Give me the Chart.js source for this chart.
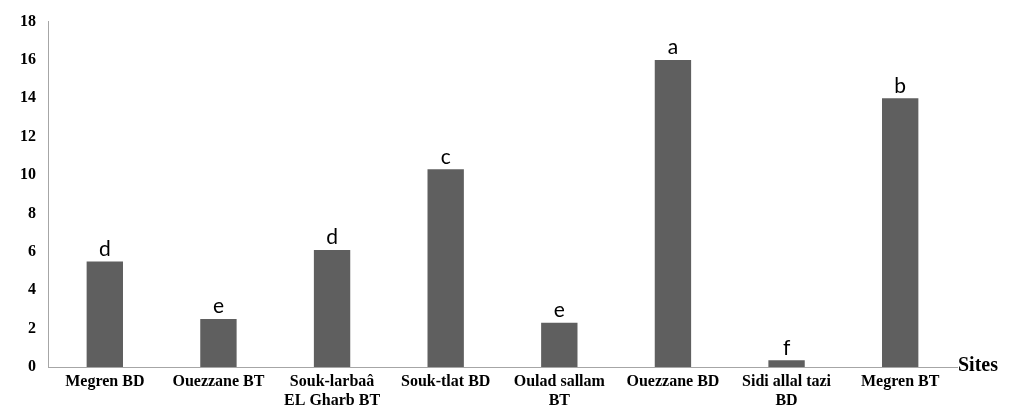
<!DOCTYPE html>
<html>
<head>
<meta charset="utf-8">
<script src="https://cdn.jsdelivr.net/npm/chart.js@4.4.1/dist/chart.umd.min.js"></script>
<style>
  html, body { margin: 0; padding: 0; background: #fff; }
  #wrap { width: 1011px; height: 415px; }
</style>
</head>
<body>
<div id="wrap"><canvas id="chart" width="1011" height="415"></canvas></div>
<script>
// site names (multi-line where the original wraps)
const sites = [
    'Megren BD',
    'Ouezzane BT',
    ['Souk-larbaâ', 'EL Gharb BT'],
    'Souk-tlat BD',
    ['Oulad sallam', 'BT'],
    'Ouezzane BD',
    ['Sidi allal tazi', 'BD'],
    'Megren BT'
];
const values = [5.5, 2.5, 6.1, 10.3, 2.3, 16.0, 0.35, 14.0];
const groups = ['d', 'e', 'd', 'c', 'e', 'a', 'f', 'b'];
const yTicks = [0, 2, 4, 6, 8, 10, 12, 14, 16, 18];

const serifBold = { family: '"Liberation Serif", "Times New Roman", serif', size: 16, weight: 'bold', lineHeight: 1.2 };

// letters above each bar + the "Sites" axis caption
const annotations = {
    id: 'annotations',
    afterDatasetsDraw(chart) {
        const ctx = chart.ctx;
        const meta = chart.getDatasetMeta(0);
        ctx.save();
        ctx.fillStyle = '#000';
        ctx.font = '21px Lato, "Open Sans", sans-serif';
        ctx.textAlign = 'center';
        ctx.textBaseline = 'bottom';
        meta.data.forEach((bar, i) => {
            ctx.fillText(groups[i], bar.x, bar.y - 2);
        });
        ctx.font = 'bold 20px "Liberation Serif", "Times New Roman", serif';
        ctx.textAlign = 'left';
        ctx.textBaseline = 'middle';
        ctx.fillText('Sites', chart.chartArea.right + 1, chart.chartArea.bottom - 1);
        ctx.restore();
    }
};

new Chart(document.getElementById('chart'), {
    type: 'bar',
    data: {
        labels: sites,
        datasets: [{
            data: values,
            backgroundColor: '#5f5f5f',
            borderWidth: 0,
            barPercentage: 0.32,
            categoryPercentage: 1.0
        }]
    },
    options: {
        responsive: false,
        animation: false,
        layout: { padding: { top: 16, right: 54, left: 0, bottom: 0 } },
        plugins: {
            legend: { display: false },
            tooltip: { enabled: false }
        },
        scales: {
            x: {
                grid: { display: false, drawTicks: false },
                border: { display: true, color: '#a6a6a6', width: 1 },
                ticks: {
                    color: '#000',
                    font: serifBold,
                    padding: 5,
                    maxRotation: 0,
                    autoSkip: false
                },
                afterFit(scale) { scale.height = 48; }
            },
            y: {
                min: 0,
                max: 18,
                afterBuildTicks(scale) {
                    scale.ticks = yTicks.map(v => ({ value: v }));
                },
                grid: { display: false, drawTicks: false },
                border: { display: true, color: '#a6a6a6', width: 1 },
                ticks: {
                    color: '#000',
                    font: serifBold,
                    padding: 12
                },
                afterFit(scale) { scale.width = 48; }
            }
        }
    },
    plugins: [annotations]
});
</script>
</body>
</html>
